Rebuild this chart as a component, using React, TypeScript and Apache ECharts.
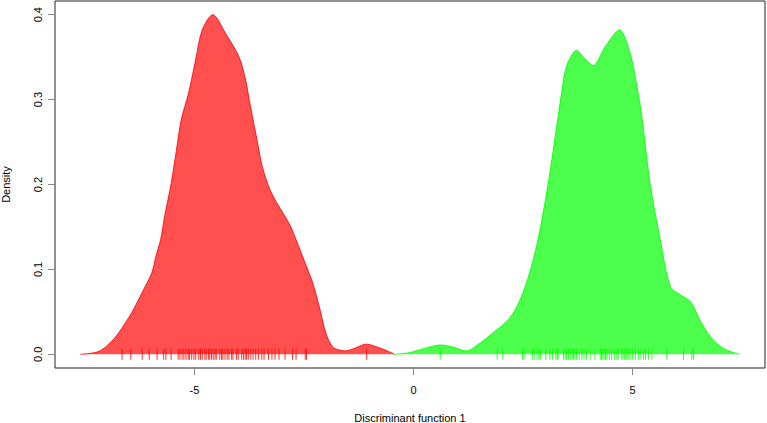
import React, { useEffect, useRef } from "react";
import * as echarts from "echarts";

const xTicks = [-5, 0, 5];
const yTicks = [0, 0.1, 0.2, 0.3, 0.4];

const redX = [-7.6, -7.2, -6.95, -6.73, -6.43, -6.2, -5.97, -5.88, -5.77, -5.68, -5.53, -5.41, -5.3, -5.13, -4.97, -4.82, -4.58, -4.29, -3.98, -3.83, -3.75, -3.6, -3.45, -3.3, -3.14, -2.95, -2.8, -2.68, -2.5, -2.3, -2.15, -2.0, -1.85, -1.69, -1.55, -1.35, -1.08, -0.8, -0.6, -0.43];
const redY = [0, 0.003, 0.012, 0.025, 0.049, 0.072, 0.096, 0.115, 0.135, 0.162, 0.201, 0.24, 0.276, 0.308, 0.347, 0.382, 0.4, 0.378, 0.35, 0.323, 0.3, 0.26, 0.221, 0.197, 0.18, 0.164, 0.15, 0.135, 0.111, 0.084, 0.056, 0.025, 0.009, 0.005, 0.004, 0.007, 0.012, 0.008, 0.004, 0.0];

const greenX = [-0.43, -0.09, 0.25, 0.62, 0.94, 1.2, 1.35, 1.81, 2.2, 2.43, 2.65, 2.84, 3.07, 3.3, 3.38, 3.49, 3.72, 3.91, 4.1, 4.37, 4.7, 4.94, 5.1, 5.21, 5.4, 5.63, 5.86, 6.09, 6.32, 6.54, 6.77, 7.07, 7.44];
const greenY = [0, 0.002, 0.007, 0.011, 0.008, 0.004, 0.007, 0.025, 0.043, 0.064, 0.096, 0.135, 0.2, 0.28, 0.308, 0.339, 0.358, 0.348, 0.34, 0.362, 0.382, 0.355, 0.315, 0.28, 0.2, 0.135, 0.08, 0.07, 0.062, 0.04, 0.021, 0.007, 0];

const redRug = [-6.65, -6.45, -6.19, -6.03, -5.85, -5.7, -5.65, -5.53, -5.37, -5.33, -5.28, -5.24, -5.19, -5.14, -5.11, -5.06, -5.01, -4.97, -4.9, -4.86, -4.82, -4.76, -4.73, -4.68, -4.65, -4.61, -4.57, -4.53, -4.5, -4.42, -4.38, -4.35, -4.3, -4.25, -4.21, -4.15, -4.12, -4.04, -4.0, -3.92, -3.88, -3.84, -3.81, -3.77, -3.71, -3.66, -3.6, -3.54, -3.46, -3.41, -3.31, -3.23, -3.16, -3.07, -2.93, -2.76, -2.68, -2.47, -2.44, -1.07];
const greenRug = [0.61, 1.91, 2.04, 2.49, 2.52, 2.71, 2.75, 2.82, 2.86, 2.9, 3.02, 3.11, 3.17, 3.25, 3.28, 3.3, 3.42, 3.46, 3.49, 3.53, 3.55, 3.59, 3.62, 3.65, 3.68, 3.72, 3.78, 3.84, 3.89, 3.95, 4.03, 4.14, 4.26, 4.29, 4.32, 4.35, 4.38, 4.41, 4.47, 4.52, 4.58, 4.64, 4.67, 4.75, 4.78, 4.81, 4.84, 4.87, 4.9, 4.94, 5.0, 5.06, 5.13, 5.19, 5.25, 5.29, 5.36, 5.44, 5.78, 6.16, 6.35, 6.39];

const FONT = "Liberation Sans";

export default function App() {
  const ref = useRef<HTMLDivElement>(null);
  useEffect(() => {
    const chart = echarts.init(ref.current!, undefined, { renderer: "svg" });
    const pairs = (xs: number[], ys: number[]) => xs.map((x, i) => [x, ys[i]]);
    chart.setOption({
      animation: false,
      textStyle: { fontFamily: FONT },
      grid: {
        left: 55,
        right: 2,
        top: 1,
        bottom: 55,
        show: true,
        borderColor: "#222",
        borderWidth: 1,
        backgroundColor: "transparent",
        containLabel: false,
        outerBoundsMode: "none",
      },
      xAxis: {
        type: "value",
        min: -8.18,
        max: 8.02,
        name: "Discriminant function 1",
        nameLocation: "middle",
        nameGap: 44,
        nameTextStyle: { color: "#000", fontSize: 11, fontFamily: FONT },
        axisLine: { show: false, onZero: false },
        splitLine: { show: false },
        axisTick: {
          show: true,
          length: 7,
          lineStyle: { color: "#888" },
          customValues: xTicks,
        },
        axisLabel: {
          color: "#000",
          fontSize: 11,
          fontFamily: FONT,
          margin: 16,
          customValues: xTicks,
          formatter: (v: number) => String(v),
        },
      },
      yAxis: {
        type: "value",
        min: -0.0161,
        max: 0.4161,
        name: "Density",
        nameLocation: "middle",
        nameGap: 44,
        nameRotate: 90,
        nameTextStyle: { color: "#000", fontSize: 11, fontFamily: FONT },
        axisLine: { show: false, onZero: false },
        splitLine: { show: false },
        axisTick: {
          show: true,
          length: 7,
          lineStyle: { color: "#888" },
          customValues: yTicks,
        },
        axisLabel: {
          color: "#000",
          fontSize: 11,
          fontFamily: FONT,
          rotate: 90,
          margin: 12,
          customValues: yTicks,
          formatter: (v: number) => v.toFixed(1),
        },
      },
      series: [
        {
          type: "line",
          data: pairs(redX, redY),
          smooth: 0.3,
          showSymbol: false,
          lineStyle: { color: "rgba(255,0,0,0.85)", width: 1 },
          areaStyle: { color: "rgba(255,0,0,0.69)", opacity: 1, origin: 0 },
          z: 2,
        },
        {
          type: "line",
          data: pairs(greenX, greenY),
          smooth: 0.3,
          showSymbol: false,
          lineStyle: { color: "rgba(0,255,0,0.85)", width: 1 },
          areaStyle: { color: "rgba(0,255,0,0.7)", opacity: 1, origin: 0 },
          z: 3,
        },
        {
          type: "scatter",
          data: redRug.map((x) => [x, 0]),
          symbol: "rect",
          symbolSize: [1, 11],
          itemStyle: { color: "#ff0000" },
          silent: true,
          z: 4,
        },
        {
          type: "scatter",
          data: greenRug.map((x) => [x, 0]),
          symbol: "rect",
          symbolSize: [1, 11],
          itemStyle: { color: "#00ff00" },
          silent: true,
          z: 4,
        },
      ],
    });
    return () => chart.dispose();
  }, []);
  return (
    <div
      ref={ref}
      style={{ width: 767, height: 423, position: "absolute", left: 0, top: 0 }}
    />
  );
}
